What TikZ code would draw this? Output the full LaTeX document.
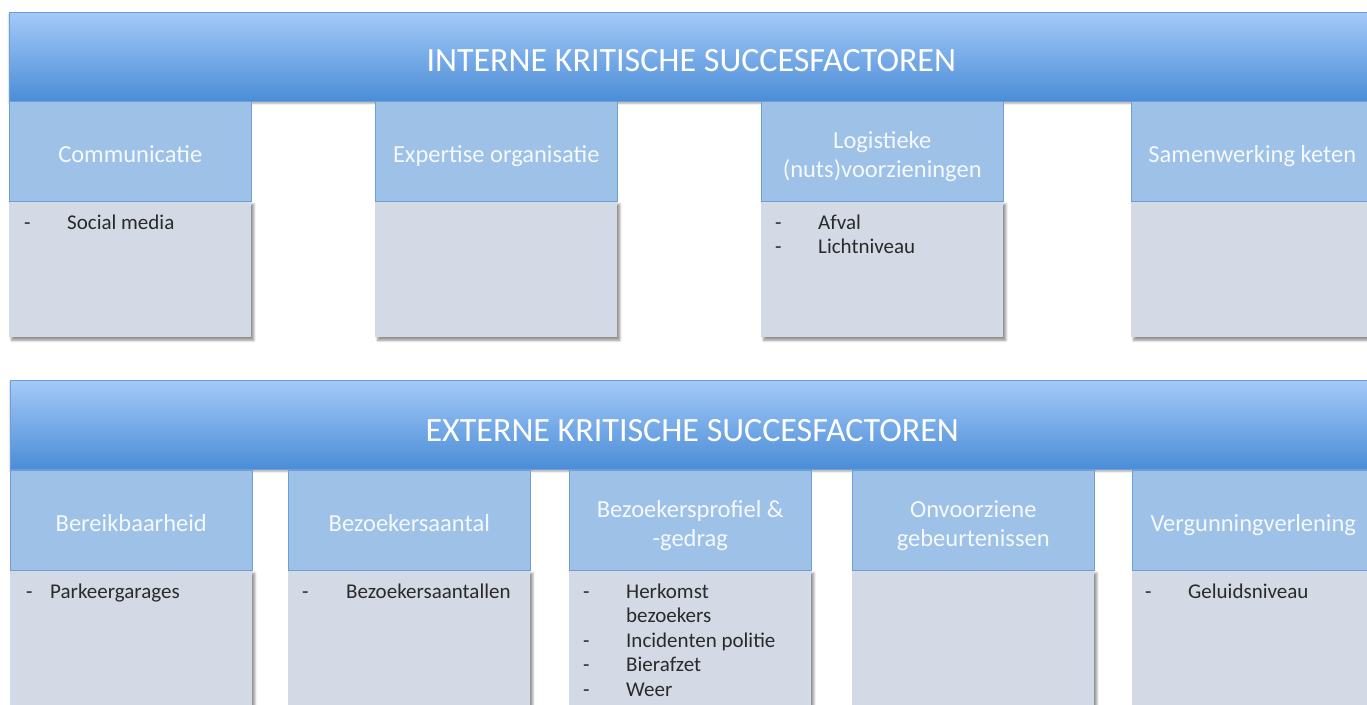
\documentclass[tikz,border=0pt]{standalone}
\usepackage{fontspec}
\setmainfont{Carlito}
\usetikzlibrary{shadows.blur}
\definecolor{bannertop}{HTML}{A4C9F8}
\definecolor{bannerbot}{HTML}{4A8DD7}
\definecolor{headfill}{HTML}{9DC1E7}
\definecolor{headline}{HTML}{6E9ED6}
\definecolor{itemfill}{HTML}{D3DAE5}
\definecolor{itemtext}{HTML}{2A2A2A}
\newcommand{\kfitems}[2]{\begin{tabular}{@{}p{#1}@{}l@{}}#2\end{tabular}}
\newcommand{\hs}{\rule{0pt}{28pt}}
\newcommand{\hd}{\rule[-5pt]{0pt}{5pt}}
\tikzset{%
banner/.style={draw=headline,line width=0.6pt,top color=bannertop,bottom color=bannerbot,
               minimum width=1364pt,minimum height=89pt,inner sep=0pt,anchor=north west,
               blur shadow={shadow xshift=0pt,shadow yshift=-2pt,shadow blur radius=2pt,shadow opacity=35}},
title/.style={text=white,font=\fontsize{34}{40}\selectfont},
factor/.style={fill=headfill,draw=headline,line width=0.5pt,minimum width=242pt,minimum height=100pt,
               inner sep=0pt,anchor=north west,align=center,text=white!90!headfill,
               font=\fontsize{24.5}{28.5}\selectfont},
itembox/.style={fill=itemfill,minimum width=242pt,minimum height=136pt,inner sep=0pt,anchor=north west,
                blur shadow={shadow xshift=2.5pt,shadow yshift=-3pt,shadow blur radius=2.5pt,shadow opacity=45}},
items/.style={anchor=north west,inner sep=0pt,text=itemtext,font=\fontsize{21}{24.5}\selectfont}
}
\begin{document}
\begin{tikzpicture}[x=1pt,y=-1pt]
\useasboundingbox (0,0) rectangle (1367,704);
\clip (0,0) rectangle (1367,704);

\node[banner] (intern) at (9,12)  {};
\node[title]  (intern-title) at ([yshift=-4pt]intern.center) {INTERNE KRITISCHE SUCCESFACTOREN};
\node[banner] (extern) at (10,380) {};
\node[title]  (extern-title) at ([yshift=-6pt]extern.center) {EXTERNE KRITISCHE SUCCESFACTOREN};

\foreach \n/\x/\t in {com/9/Communicatie,
                      exp/375/Expertise organisatie,
                      log/761/{Logistieke\\(nuts)voorzieningen},
                      sam/1131/Samenwerking keten}
{
  \node[itembox] (\n-box) at (\x,201) {};
  \node[factor]  (\n)     at (\x,101) {\hs\t\hd};
}

\foreach \n/\x/\t in {ber/10/Bereikbaarheid,
                      bez/288/Bezoekersaantal,
                      pro/569/{Bezoekersprofiel \&\\-gedrag},
                      onv/852/{Onvoorziene\\gebeurtenissen},
                      ver/1132/Vergunningverlening}
{
  \node[itembox] (\n-box) at (\x,570) {};
  \node[factor]  (\n)     at (\x,470) {\hs\t\hd};
}

\node[items] (com-list) at ([shift={(15pt,-11pt)}]com-box.north west)
  {\kfitems{43pt}{-&Social media}};
\node[items] (log-list) at ([shift={(14pt,-11pt)}]log-box.north west)
  {\kfitems{43pt}{-&Afval\\-&Lichtniveau}};
\node[items] (ber-list) at ([shift={(16pt,-11pt)}]ber-box.north west)
  {\kfitems{24pt}{-&Parkeergarages}};
\node[items] (bez-list) at ([shift={(14pt,-11pt)}]bez-box.north west)
  {\kfitems{44pt}{-&Bezoekersaantallen}};
\node[items] (pro-list) at ([shift={(14pt,-11pt)}]pro-box.north west)
  {\kfitems{43pt}{-&Herkomst\\&bezoekers\\-&Incidenten politie\\-&Bierafzet\\-&Weer}};
\node[items] (ver-list) at ([shift={(13pt,-11pt)}]ver-box.north west)
  {\kfitems{43pt}{-&Geluidsniveau}};
\end{tikzpicture}
\end{document}
